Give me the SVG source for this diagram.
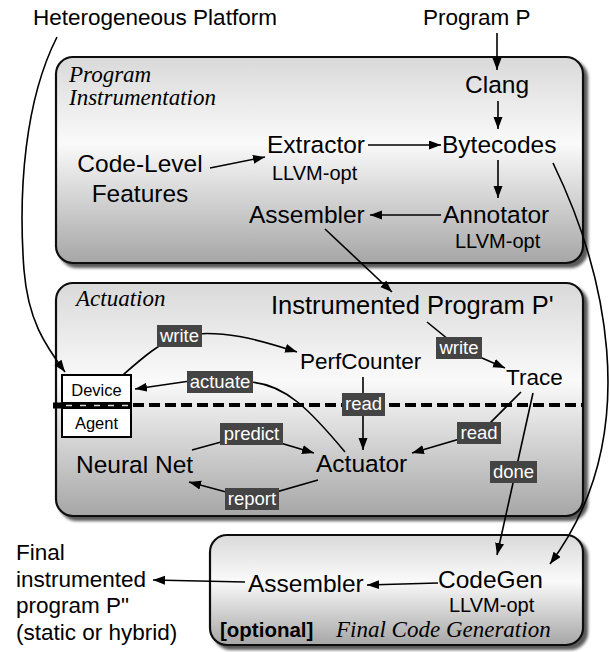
<svg xmlns="http://www.w3.org/2000/svg" width="610" height="652" viewBox="0 0 610 652">
<defs>
  <linearGradient id="pg" x1="0" y1="0" x2="0" y2="1">
    <stop offset="0" stop-color="#d9d9d9"/>
    <stop offset="0.42" stop-color="#fafafa"/>
    <stop offset="1" stop-color="#a6a6a6"/>
  </linearGradient>
  <filter id="sh" x="-5%" y="-5%" width="115%" height="125%">
    <feDropShadow dx="4" dy="4" stdDeviation="1.8" flood-color="#000" flood-opacity="0.65"/>
  </filter>
  <marker id="ah" markerUnits="userSpaceOnUse" markerWidth="13" markerHeight="10" refX="12" refY="4.5" orient="auto">
    <path d="M0,0 L12,4.5 L0,9 z" fill="#000"/>
  </marker>
  <style>
    .panel{fill:url(#pg);stroke:#111;stroke-width:2.2;filter:url(#sh)}
    .t{font-family:"Liberation Sans",Arial,Helvetica,sans-serif;fill:#000}
    .n{font-size:24.5px}
    .s{font-size:20px}
    .i{font-family:"Liberation Serif","Times New Roman",serif;font-style:italic;font-size:23px;fill:#000}
    .c{fill:none;stroke:#000;stroke-width:1.6}
    .a{marker-end:url(#ah)}
    .lb{fill:#444}
    .lt{font-family:"Liberation Sans",Arial,Helvetica,sans-serif;font-size:18.5px;fill:#fff;text-anchor:middle}
    .box{fill:#fff;stroke:#000;stroke-width:2}
  </style>
</defs>

<g id="outside-labels">
  <text class="t" x="33" y="25" font-size="22.5">Heterogeneous Platform</text>
  <text class="t" x="423" y="25" font-size="22.5">Program P</text>
  <text class="t" font-size="22.5"><tspan x="16" y="560">Final</tspan><tspan x="16" y="587">instrumented</tspan><tspan x="16" y="613">program P"</tspan><tspan x="16" y="640">(static or hybrid)</tspan></text>
</g>

<g id="panel-instrumentation">
  <rect class="panel" x="56" y="57" width="527" height="206" rx="17"/>
  <text class="i"><tspan x="69" y="82">Program</tspan><tspan x="69" y="105">Instrumentation</tspan></text>
</g>
<g id="panel-actuation">
  <rect class="panel" x="56" y="283" width="527" height="233" rx="17"/>
  <text class="i" x="76" y="306">Actuation</text>
  <line x1="53" y1="405" x2="583" y2="405" stroke="#000" stroke-width="4" stroke-dasharray="11,5"/>
</g>
<g id="panel-codegen">
  <rect class="panel" x="210" y="535" width="373" height="110" rx="17"/>
  <text class="t" x="220" y="637" font-size="20.5" font-weight="bold">[optional]</text>
  <text class="i" x="336" y="637" font-size="23.5">Final Code Generation</text>
</g>

<g id="connectors">
  <path class="c a" d="M497,33 L497,70"/>
  <path class="c a" d="M498,101 L498,129"/>
  <path class="c a" d="M498,160 L498,198"/>
  <path class="c a" d="M210,168 L265,157"/>
  <path class="c a" d="M368,145 L441,145"/>
  <path class="c a" d="M441,215 L370,215"/>
  <path class="c a" d="M325,229 L392,292"/>
  <path class="c a" d="M553,163 C600,260 650,430 550,564"/>
  <path class="c a" d="M533,393 L497,555"/>
  <path class="c a" d="M57,37 C25,100 18,190 24,270 C28,320 45,345 65,372"/>
  <path class="c a" d="M123,375 C140,360 160,342 180,336 C220,328 260,340 297,352"/>
  <path class="c a" d="M345,452 C310,410 285,384 250,382 L190,381 L135,389"/>
  <path class="c a" d="M363,377 L363,450"/>
  <path class="c a" d="M521,392 L480,433 L412,453"/>
  <path class="c a" d="M427,322 L459,348 L505,368"/>
  <path class="c a" d="M192,450 L250,434 L314,453"/>
  <path class="c a" d="M318,480 L252,499 L189,482"/>
  <path class="c a" d="M438,583 L367,585"/>
  <path class="c a" d="M245,582 L153,580"/>
</g>

<g id="edge-labels">
  <g id="lbl-write1"><rect class="lb" x="157" y="325" width="45" height="22"/><text class="lt" x="179.5" y="342">write</text></g>
  <g id="lbl-actuate"><rect class="lb" x="187" y="371" width="66" height="22"/><text class="lt" x="220" y="388">actuate</text></g>
  <g id="lbl-read1"><rect class="lb" x="342" y="393" width="43" height="23"/><text class="lt" x="363.5" y="410">read</text></g>
  <g id="lbl-write2"><rect class="lb" x="436" y="337" width="46" height="22"/><text class="lt" x="459" y="354">write</text></g>
  <g id="lbl-read2"><rect class="lb" x="457" y="422" width="44" height="22"/><text class="lt" x="479" y="439">read</text></g>
  <g id="lbl-predict"><rect class="lb" x="220" y="423" width="63" height="22"/><text class="lt" x="251.5" y="440">predict</text></g>
  <g id="lbl-report"><rect class="lb" x="225" y="488" width="54" height="22"/><text class="lt" x="252" y="505">report</text></g>
  <g id="lbl-done"><rect class="lb" x="490" y="461" width="47" height="22"/><text class="lt" x="513.5" y="478">done</text></g>
</g>

<g id="node-clang"><text class="t n" x="465" y="93">Clang</text></g>
<g id="node-bytecodes"><text class="t n" x="442" y="153">Bytecodes</text></g>
<g id="node-annotator"><text class="t n" x="443" y="223">Annotator</text><text class="t s" x="455" y="248">LLVM-opt</text></g>
<g id="node-extractor"><text class="t n" x="267" y="153">Extractor</text><text class="t s" x="272" y="180">LLVM-opt</text></g>
<g id="node-features"><text class="t n" text-anchor="middle"><tspan x="140" y="172">Code-Level</tspan><tspan x="140" y="202">Features</tspan></text></g>
<g id="node-assembler1"><text class="t n" x="249" y="223">Assembler</text></g>
<g id="node-instrumented"><text class="t" x="271" y="314" font-size="25.5">Instrumented Program P'</text></g>
<g id="node-perfcounter"><text class="t" x="300" y="369" font-size="22.5">PerfCounter</text></g>
<g id="node-trace"><text class="t" x="506" y="385" font-size="22.5">Trace</text></g>
<g id="node-device"><rect class="box" x="62" y="375" width="69" height="28"/><text class="t" x="96.5" y="396" font-size="16.5" text-anchor="middle">Device</text></g>
<g id="node-agent"><rect class="box" x="62" y="408" width="69" height="29"/><text class="t" x="96.5" y="429" font-size="16.5" text-anchor="middle">Agent</text></g>
<g id="divider-over-boxes">
  <rect x="53" y="402.5" width="79" height="6" fill="#000"/>
  <line x1="66" y1="405.5" x2="128" y2="405.5" stroke="#d8d8d8" stroke-width="1.5" stroke-dasharray="6,8"/>
</g>
<g id="node-neuralnet"><text class="t n" x="76" y="473">Neural Net</text></g>
<g id="node-actuator"><text class="t n" x="316" y="472">Actuator</text></g>
<g id="node-codegen"><text class="t n" x="438" y="588">CodeGen</text><text class="t s" x="449" y="612">LLVM-opt</text></g>
<g id="node-assembler2"><text class="t n" x="248" y="592">Assembler</text></g>
</svg>
